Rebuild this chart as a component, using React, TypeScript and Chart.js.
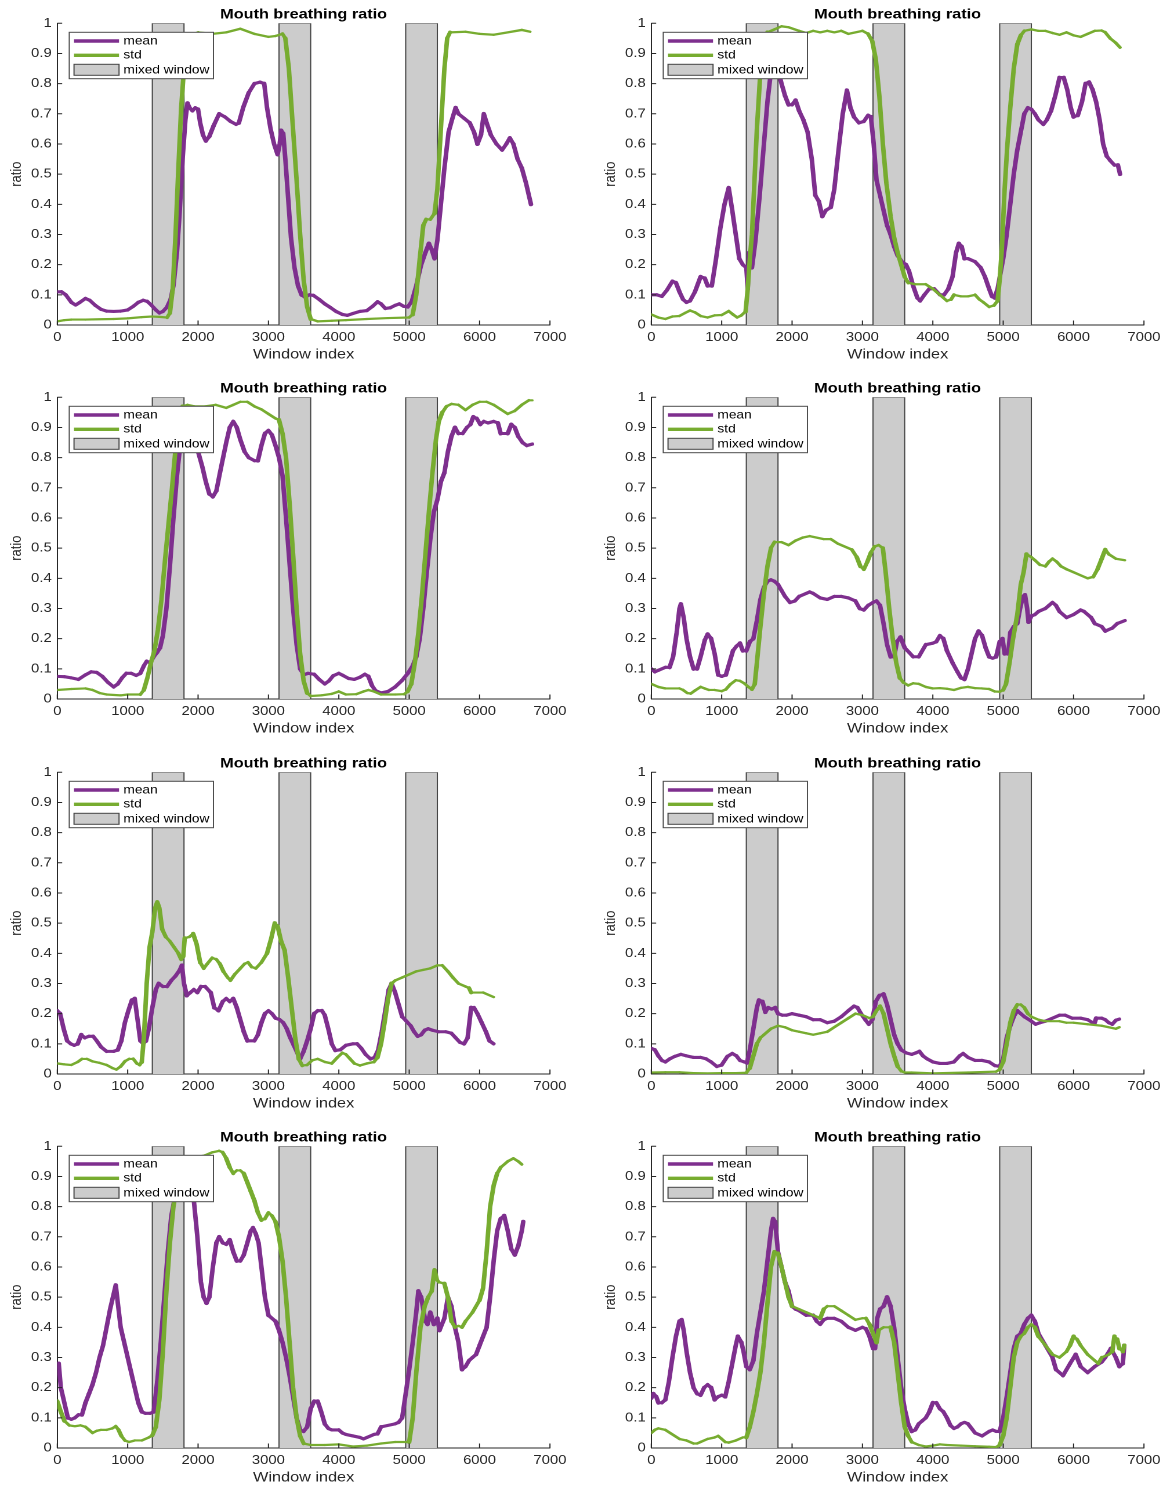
import React, { useEffect, useRef } from 'react';
import { Chart, registerables } from 'chart.js';

Chart.register(...registerables);

const FONT = '"Liberation Sans", Arial, Helvetica, sans-serif';
Chart.defaults.font.family = FONT;

// ---------- text / categories ----------
const titleText = 'Mouth breathing ratio';
const xLabel = 'Window index';
const yLabel = 'ratio';
const legendLabels = ['mean', 'std', 'mixed window'];
const xTicks = [0, 1000, 2000, 3000, 4000, 5000, 6000, 7000];
const yTicks = [0, 0.1, 0.2, 0.3, 0.4, 0.5, 0.6, 0.7, 0.8, 0.9, 1];
const mixedWindows = [[1350, 1800], [3150, 3600], [4950, 5400]];

// ---------- series values [window index, ratio] ----------
const p1Mean = [[0,0.11],[60,0.11],[120,0.1],[200,0.075],[260,0.066],[320,0.075],[400,0.088],[460,0.082],[540,0.065],[620,0.052],[700,0.046],[800,0.045],[900,0.046],[1000,0.05],[1080,0.062],[1150,0.075],[1220,0.082],[1280,0.078],[1340,0.065],[1400,0.05],[1450,0.04],[1500,0.045],[1560,0.06],[1610,0.085],[1650,0.13],[1700,0.24],[1740,0.38],[1780,0.55],[1820,0.68],[1850,0.735],[1880,0.72],[1920,0.71],[1960,0.72],[2000,0.715],[2030,0.67],[2070,0.63],[2110,0.61],[2160,0.625],[2220,0.66],[2300,0.7],[2380,0.69],[2460,0.675],[2540,0.665],[2580,0.67],[2640,0.72],[2720,0.77],[2800,0.8],[2880,0.805],[2940,0.8],[2980,0.72],[3030,0.65],[3080,0.6],[3130,0.565],[3160,0.6],[3180,0.645],[3210,0.635],[3240,0.55],[3280,0.42],[3320,0.29],[3370,0.19],[3420,0.13],[3470,0.1],[3520,0.092],[3580,0.1],[3640,0.098],[3720,0.085],[3800,0.07],[3880,0.058],[3960,0.045],[4050,0.035],[4120,0.032],[4200,0.038],[4300,0.045],[4400,0.048],[4480,0.062],[4550,0.077],[4600,0.07],[4660,0.055],[4730,0.057],[4800,0.065],[4860,0.07],[4920,0.062],[4980,0.06],[5040,0.08],[5100,0.13],[5170,0.2],[5230,0.24],[5280,0.27],[5320,0.25],[5360,0.22],[5400,0.28],[5450,0.4],[5500,0.52],[5560,0.64],[5620,0.69],[5660,0.72],[5700,0.7],[5780,0.685],[5860,0.67],[5920,0.64],[5970,0.6],[6020,0.63],[6060,0.7],[6100,0.67],[6160,0.63],[6240,0.6],[6320,0.58],[6380,0.6],[6430,0.62],[6480,0.6],[6540,0.55],[6600,0.52],[6660,0.47],[6700,0.43],[6730,0.4]];
const p1Std = [[0,0.012],[100,0.016],[200,0.018],[400,0.018],[600,0.019],[800,0.02],[1000,0.022],[1200,0.026],[1350,0.028],[1450,0.027],[1560,0.025],[1600,0.04],[1640,0.12],[1680,0.3],[1720,0.52],[1760,0.72],[1800,0.85],[1850,0.93],[1900,0.96],[2000,0.97],[2200,0.965],[2400,0.97],[2600,0.982],[2800,0.965],[3000,0.955],[3100,0.958],[3200,0.965],[3240,0.95],[3290,0.85],[3340,0.68],[3400,0.48],[3450,0.3],[3500,0.15],[3550,0.06],[3600,0.02],[3700,0.012],[3900,0.014],[4100,0.016],[4400,0.02],[4700,0.023],[5000,0.025],[5050,0.035],[5100,0.1],[5150,0.22],[5200,0.33],[5240,0.35],[5300,0.35],[5360,0.37],[5400,0.45],[5450,0.65],[5500,0.85],[5540,0.95],[5580,0.97],[5800,0.972],[6000,0.965],[6200,0.962],[6400,0.97],[6600,0.978],[6720,0.972]];

const p2Mean = [[0,0.1],[80,0.1],[150,0.095],[220,0.115],[300,0.145],[350,0.14],[400,0.11],[450,0.085],[500,0.075],[550,0.08],[620,0.11],[700,0.16],[760,0.155],[800,0.13],[860,0.13],[920,0.22],[980,0.32],[1040,0.4],[1100,0.455],[1150,0.38],[1200,0.3],[1250,0.22],[1300,0.2],[1350,0.19],[1370,0.12],[1390,0.24],[1430,0.19],[1480,0.28],[1540,0.43],[1600,0.6],[1650,0.74],[1700,0.84],[1750,0.87],[1800,0.85],[1850,0.8],[1900,0.76],[1950,0.73],[2000,0.73],[2050,0.745],[2100,0.71],[2160,0.68],[2220,0.64],[2280,0.55],[2330,0.43],[2380,0.41],[2430,0.36],[2480,0.38],[2550,0.39],[2600,0.45],[2660,0.58],[2720,0.7],[2780,0.778],[2830,0.72],[2880,0.69],[2950,0.67],[3020,0.675],[3080,0.695],[3120,0.69],[3160,0.6],[3200,0.48],[3250,0.43],[3300,0.38],[3350,0.33],[3400,0.3],[3450,0.26],[3500,0.23],[3560,0.21],[3620,0.2],[3660,0.18],[3720,0.13],[3780,0.09],[3820,0.08],[3880,0.1],[3950,0.12],[4020,0.12],[4100,0.1],[4160,0.1],[4220,0.12],[4280,0.16],[4330,0.24],[4370,0.27],[4410,0.26],[4450,0.22],[4500,0.22],[4600,0.21],[4680,0.19],[4740,0.16],[4800,0.12],[4840,0.095],[4880,0.09],[4920,0.12],[4960,0.17],[5000,0.22],[5050,0.3],[5100,0.4],[5150,0.5],[5200,0.58],[5250,0.64],[5300,0.7],[5350,0.72],[5400,0.715],[5450,0.7],[5500,0.68],[5570,0.665],[5620,0.68],[5680,0.71],[5740,0.76],[5800,0.82],[5860,0.82],[5910,0.78],[5960,0.72],[6000,0.69],[6060,0.695],[6120,0.74],[6170,0.8],[6220,0.805],[6270,0.78],[6320,0.74],[6370,0.68],[6420,0.6],[6470,0.56],[6520,0.545],[6580,0.53],[6630,0.53],[6660,0.5]];
const p2Std = [[0,0.035],[100,0.025],[200,0.02],[300,0.028],[400,0.03],[480,0.04],[550,0.048],[620,0.042],[700,0.03],[800,0.025],[900,0.032],[1000,0.033],[1100,0.046],[1160,0.035],[1220,0.025],[1280,0.032],[1340,0.045],[1370,0.12],[1400,0.22],[1430,0.3],[1460,0.45],[1500,0.65],[1550,0.84],[1600,0.93],[1650,0.97],[1750,0.98],[1850,0.99],[1950,0.987],[2100,0.975],[2200,0.968],[2300,0.975],[2400,0.97],[2500,0.975],[2600,0.97],[2700,0.975],[2800,0.965],[2900,0.97],[3000,0.975],[3080,0.965],[3140,0.94],[3190,0.88],[3240,0.76],[3290,0.6],[3340,0.47],[3400,0.36],[3450,0.29],[3500,0.24],[3550,0.2],[3600,0.16],[3650,0.14],[3750,0.135],[3900,0.135],[4000,0.12],[4100,0.1],[4200,0.08],[4260,0.085],[4300,0.1],[4400,0.095],[4500,0.095],[4600,0.1],[4660,0.085],[4720,0.075],[4800,0.06],[4870,0.065],[4920,0.08],[4950,0.15],[4980,0.25],[5020,0.45],[5060,0.6],[5100,0.72],[5150,0.85],[5200,0.93],[5250,0.96],[5300,0.975],[5400,0.98],[5500,0.975],[5600,0.975],[5700,0.968],[5800,0.962],[5900,0.97],[6000,0.96],[6100,0.955],[6200,0.965],[6300,0.975],[6400,0.976],[6450,0.97],[6520,0.95],[6600,0.935],[6660,0.92]];

const p3Mean = [[0,0.075],[100,0.074],[200,0.07],[300,0.065],[400,0.08],[480,0.09],[560,0.088],[640,0.075],[720,0.055],[800,0.04],[860,0.05],[920,0.07],[980,0.085],[1050,0.085],[1120,0.078],[1180,0.085],[1230,0.11],[1270,0.125],[1320,0.12],[1370,0.14],[1420,0.155],[1460,0.17],[1500,0.21],[1550,0.3],[1600,0.44],[1650,0.6],[1700,0.74],[1750,0.85],[1800,0.87],[1850,0.85],[1900,0.84],[1950,0.85],[2000,0.82],[2060,0.77],[2110,0.72],[2160,0.68],[2210,0.67],[2260,0.69],[2320,0.76],[2400,0.85],[2450,0.9],[2500,0.92],[2550,0.9],[2600,0.86],[2660,0.82],[2720,0.8],[2800,0.79],[2850,0.79],[2900,0.84],[2950,0.88],[3000,0.89],[3050,0.875],[3100,0.84],[3150,0.8],[3200,0.74],[3250,0.6],[3300,0.45],[3350,0.3],[3400,0.18],[3450,0.1],[3500,0.08],[3560,0.085],[3650,0.082],[3720,0.065],[3800,0.05],[3860,0.06],[3920,0.077],[4000,0.085],[4060,0.078],[4140,0.068],[4220,0.065],[4300,0.072],[4370,0.082],[4420,0.075],[4470,0.045],[4520,0.028],[4600,0.02],[4700,0.025],[4800,0.04],[4900,0.062],[4980,0.085],[5050,0.11],[5100,0.14],[5150,0.2],[5200,0.3],[5250,0.42],[5300,0.53],[5350,0.62],[5400,0.66],[5450,0.72],[5500,0.75],[5550,0.82],[5600,0.87],[5650,0.9],[5700,0.88],[5760,0.88],[5820,0.9],[5870,0.91],[5910,0.935],[5960,0.93],[6010,0.91],[6060,0.92],[6120,0.915],[6200,0.92],[6260,0.915],[6300,0.88],[6400,0.88],[6450,0.91],[6500,0.9],[6550,0.87],[6610,0.85],[6670,0.84],[6750,0.845]];
const p3Std = [[0,0.03],[200,0.033],[400,0.035],[500,0.03],[600,0.02],[700,0.015],[900,0.012],[1000,0.015],[1180,0.015],[1230,0.03],[1280,0.07],[1330,0.12],[1380,0.16],[1430,0.23],[1480,0.33],[1530,0.46],[1580,0.58],[1630,0.7],[1680,0.83],[1730,0.93],[1780,0.97],[1850,0.975],[1950,0.97],[2100,0.97],[2250,0.975],[2400,0.965],[2500,0.975],[2600,0.985],[2700,0.985],[2800,0.97],[2900,0.96],[3000,0.945],[3100,0.93],[3150,0.925],[3200,0.88],[3250,0.8],[3300,0.65],[3350,0.48],[3400,0.3],[3450,0.15],[3500,0.06],[3550,0.02],[3600,0.01],[3750,0.012],[3900,0.017],[4000,0.025],[4100,0.015],[4250,0.016],[4350,0.025],[4420,0.03],[4500,0.025],[4600,0.015],[4800,0.015],[4930,0.016],[4980,0.025],[5030,0.05],[5080,0.12],[5130,0.22],[5180,0.34],[5230,0.48],[5280,0.62],[5330,0.75],[5380,0.86],[5420,0.92],[5470,0.95],[5530,0.97],[5600,0.978],[5700,0.975],[5800,0.958],[5900,0.975],[6000,0.985],[6100,0.985],[6200,0.975],[6300,0.96],[6400,0.945],[6500,0.955],[6600,0.975],[6700,0.99],[6750,0.99]];

const p4Mean = [[0,0.1],[50,0.09],[100,0.095],[200,0.105],[260,0.105],[310,0.14],[360,0.22],[400,0.3],[420,0.315],[460,0.27],[500,0.2],[550,0.14],[600,0.1],[650,0.1],[700,0.14],[760,0.195],[800,0.215],[850,0.2],[900,0.15],[950,0.08],[1000,0.075],[1060,0.08],[1110,0.12],[1160,0.16],[1210,0.175],[1260,0.185],[1300,0.16],[1350,0.16],[1400,0.19],[1450,0.2],[1500,0.26],[1550,0.33],[1600,0.37],[1650,0.39],[1700,0.395],[1750,0.39],[1800,0.38],[1850,0.36],[1900,0.34],[1970,0.32],[2040,0.325],[2100,0.34],[2200,0.35],[2250,0.355],[2300,0.35],[2400,0.335],[2500,0.33],[2600,0.34],[2700,0.34],[2800,0.335],[2900,0.325],[2960,0.3],[3020,0.295],[3080,0.31],[3150,0.32],[3200,0.325],[3250,0.31],[3300,0.25],[3350,0.18],[3400,0.14],[3450,0.14],[3490,0.19],[3540,0.205],[3600,0.17],[3660,0.155],[3720,0.14],[3800,0.14],[3850,0.16],[3900,0.18],[4000,0.185],[4050,0.19],[4100,0.21],[4150,0.2],[4200,0.16],[4280,0.12],[4350,0.09],[4400,0.07],[4450,0.065],[4500,0.1],[4550,0.15],[4600,0.2],[4650,0.225],[4700,0.21],[4750,0.17],[4800,0.14],[4850,0.135],[4900,0.14],[4950,0.19],[4990,0.2],[5020,0.15],[5070,0.15],[5100,0.22],[5150,0.24],[5200,0.25],[5240,0.3],[5280,0.34],[5310,0.345],[5340,0.3],[5360,0.255],[5400,0.275],[5450,0.28],[5500,0.29],[5600,0.3],[5650,0.31],[5700,0.32],[5750,0.31],[5800,0.29],[5900,0.27],[6000,0.28],[6100,0.295],[6150,0.29],[6250,0.27],[6300,0.25],[6400,0.24],[6450,0.225],[6500,0.23],[6550,0.235],[6620,0.25],[6730,0.26]];
const p4Std = [[0,0.05],[100,0.04],[200,0.035],[300,0.035],[400,0.035],[450,0.03],[510,0.02],[560,0.018],[620,0.028],[700,0.04],[760,0.035],[820,0.03],[900,0.03],[1000,0.026],[1060,0.032],[1120,0.048],[1200,0.062],[1260,0.06],[1320,0.052],[1380,0.04],[1430,0.032],[1470,0.05],[1500,0.12],[1550,0.24],[1600,0.35],[1650,0.44],[1700,0.5],[1750,0.52],[1850,0.52],[1950,0.51],[2050,0.525],[2150,0.535],[2250,0.54],[2350,0.535],[2450,0.53],[2550,0.53],[2650,0.515],[2750,0.505],[2850,0.495],[2920,0.47],[2970,0.44],[3020,0.43],[3070,0.455],[3120,0.485],[3170,0.505],[3230,0.51],[3290,0.5],[3330,0.42],[3380,0.3],[3430,0.2],[3480,0.12],[3530,0.07],[3580,0.055],[3650,0.045],[3720,0.052],[3800,0.05],[3900,0.04],[4000,0.035],[4100,0.036],[4200,0.034],[4300,0.03],[4400,0.037],[4500,0.04],[4600,0.036],[4700,0.035],[4800,0.033],[4880,0.025],[4950,0.024],[5000,0.03],[5040,0.05],[5090,0.12],[5140,0.2],[5200,0.28],[5250,0.38],[5290,0.42],[5330,0.48],[5400,0.47],[5450,0.46],[5520,0.445],[5600,0.44],[5650,0.455],[5700,0.465],[5760,0.455],[5820,0.44],[5900,0.43],[6000,0.42],[6100,0.41],[6200,0.4],[6280,0.405],[6340,0.43],[6400,0.465],[6450,0.495],[6500,0.48],[6600,0.465],[6730,0.46]];

const p5Mean = [[0,0.21],[40,0.2],[90,0.15],[140,0.11],[190,0.1],[240,0.095],[290,0.1],[340,0.13],[390,0.12],[450,0.125],[510,0.125],[560,0.11],[620,0.09],[700,0.075],[800,0.075],[860,0.08],[910,0.11],[960,0.17],[1010,0.21],[1060,0.245],[1100,0.25],[1140,0.18],[1180,0.11],[1220,0.1],[1260,0.11],[1300,0.15],[1350,0.22],[1400,0.28],[1440,0.3],[1500,0.29],[1560,0.29],[1620,0.31],[1680,0.325],[1740,0.345],[1770,0.36],[1800,0.3],[1840,0.26],[1890,0.27],[1940,0.28],[1990,0.27],[2040,0.29],[2100,0.29],[2180,0.27],[2230,0.22],[2290,0.21],[2350,0.24],[2400,0.25],[2450,0.24],[2500,0.25],[2550,0.22],[2600,0.18],[2650,0.14],[2700,0.11],[2800,0.11],[2850,0.13],[2900,0.17],[2950,0.2],[3000,0.21],[3050,0.2],[3100,0.185],[3160,0.18],[3210,0.17],[3260,0.15],[3310,0.12],[3360,0.095],[3410,0.07],[3450,0.05],[3500,0.075],[3550,0.11],[3600,0.15],[3650,0.2],[3700,0.21],[3760,0.21],[3800,0.195],[3850,0.15],[3900,0.1],[3950,0.078],[4020,0.08],[4100,0.095],[4200,0.1],[4260,0.1],[4320,0.085],[4380,0.065],[4450,0.05],[4510,0.055],[4560,0.08],[4610,0.14],[4660,0.21],[4710,0.28],[4750,0.3],[4800,0.27],[4850,0.23],[4900,0.19],[4960,0.175],[5020,0.16],[5070,0.14],[5120,0.125],[5170,0.13],[5220,0.145],[5270,0.15],[5330,0.145],[5420,0.14],[5520,0.14],[5600,0.135],[5660,0.12],[5720,0.105],[5780,0.1],[5830,0.12],[5880,0.22],[5920,0.22],[5970,0.2],[6030,0.17],[6090,0.14],[6140,0.11],[6200,0.1]];
const p5Std = [[0,0.035],[100,0.032],[200,0.03],[290,0.04],[350,0.05],[420,0.05],[500,0.042],[600,0.037],[700,0.03],[780,0.02],[840,0.015],[900,0.025],[960,0.042],[1020,0.05],[1080,0.05],[1130,0.035],[1170,0.03],[1200,0.04],[1230,0.12],[1270,0.3],[1310,0.42],[1350,0.47],[1390,0.55],[1420,0.57],[1450,0.55],[1490,0.48],[1540,0.455],[1600,0.44],[1660,0.42],[1720,0.4],[1760,0.38],[1790,0.39],[1810,0.45],[1880,0.455],[1930,0.465],[1980,0.43],[2030,0.37],[2080,0.35],[2130,0.365],[2200,0.385],[2260,0.38],[2310,0.365],[2360,0.34],[2420,0.32],[2460,0.31],[2520,0.33],[2600,0.35],[2660,0.365],[2710,0.37],[2760,0.355],[2820,0.35],[2900,0.37],[2980,0.4],[3040,0.45],[3090,0.5],[3130,0.49],[3180,0.44],[3230,0.41],[3280,0.32],[3330,0.22],[3380,0.12],[3430,0.05],[3480,0.028],[3550,0.03],[3620,0.045],[3700,0.05],[3800,0.04],[3900,0.035],[3980,0.055],[4050,0.07],[4100,0.065],[4160,0.05],[4220,0.035],[4300,0.028],[4400,0.035],[4500,0.04],[4550,0.055],[4600,0.1],[4650,0.17],[4700,0.25],[4750,0.3],[4800,0.31],[4900,0.32],[5000,0.33],[5100,0.34],[5200,0.345],[5300,0.35],[5400,0.36],[5470,0.36],[5550,0.34],[5620,0.32],[5700,0.3],[5800,0.29],[5850,0.285],[5880,0.27],[5950,0.27],[6050,0.27],[6100,0.265],[6200,0.255]];

const p6Mean = [[0,0.085],[50,0.08],[100,0.06],[150,0.045],[200,0.04],[260,0.05],[330,0.058],[420,0.065],[500,0.06],[600,0.055],[700,0.055],[780,0.05],[850,0.04],[930,0.025],[1000,0.03],[1080,0.058],[1150,0.068],[1210,0.06],[1260,0.045],[1320,0.04],[1360,0.037],[1400,0.08],[1450,0.15],[1500,0.22],[1530,0.245],[1580,0.24],[1620,0.205],[1660,0.22],[1710,0.215],[1760,0.22],[1800,0.2],[1860,0.195],[1920,0.195],[2000,0.2],[2100,0.195],[2200,0.19],[2300,0.18],[2400,0.18],[2500,0.17],[2600,0.175],[2700,0.19],[2800,0.21],[2880,0.225],[2930,0.22],[2980,0.2],[3040,0.18],[3090,0.165],[3140,0.18],[3190,0.24],[3240,0.26],[3300,0.265],[3350,0.23],[3400,0.18],[3450,0.13],[3500,0.1],[3550,0.08],[3620,0.07],[3700,0.065],[3760,0.07],[3810,0.075],[3860,0.06],[3920,0.05],[4000,0.04],[4100,0.035],[4200,0.035],[4300,0.04],[4380,0.06],[4430,0.068],[4500,0.055],[4600,0.045],[4700,0.045],[4800,0.04],[4880,0.028],[4950,0.025],[5000,0.05],[5050,0.12],[5100,0.16],[5150,0.19],[5200,0.21],[5250,0.2],[5300,0.19],[5400,0.175],[5460,0.165],[5520,0.17],[5600,0.175],[5700,0.185],[5800,0.195],[5880,0.195],[5980,0.185],[6100,0.185],[6200,0.18],[6270,0.17],[6300,0.17],[6320,0.185],[6400,0.185],[6450,0.18],[6500,0.17],[6550,0.165],[6600,0.178],[6650,0.182]];
const p6Std = [[0,0.005],[200,0.006],[400,0.006],[600,0.003],[800,0.002],[1000,0.003],[1200,0.003],[1350,0.004],[1400,0.02],[1450,0.06],[1500,0.1],[1550,0.12],[1600,0.13],[1700,0.15],[1800,0.16],[1900,0.155],[2000,0.145],[2100,0.14],[2200,0.135],[2300,0.13],[2400,0.135],[2500,0.14],[2600,0.155],[2700,0.17],[2800,0.185],[2900,0.2],[3000,0.195],[3100,0.185],[3150,0.19],[3200,0.21],[3250,0.225],[3300,0.2],[3350,0.15],[3400,0.1],[3450,0.06],[3500,0.025],[3550,0.01],[3600,0.005],[3700,0.005],[4000,0.002],[4500,0.005],[4900,0.008],[4950,0.015],[5000,0.04],[5050,0.1],[5100,0.17],[5150,0.21],[5200,0.23],[5250,0.23],[5300,0.22],[5350,0.2],[5400,0.19],[5500,0.18],[5600,0.175],[5700,0.175],[5800,0.175],[5900,0.17],[6000,0.17],[6200,0.165],[6400,0.16],[6500,0.155],[6600,0.15],[6650,0.155]];

const p7Mean = [[0,0.27],[20,0.28],[50,0.2],[100,0.15],[150,0.1],[200,0.095],[250,0.1],[300,0.11],[350,0.11],[400,0.15],[450,0.18],[500,0.21],[550,0.25],[600,0.3],[650,0.34],[700,0.4],[750,0.46],[800,0.51],[830,0.54],[860,0.48],[900,0.4],[950,0.35],[1000,0.3],[1050,0.25],[1100,0.2],[1150,0.15],[1200,0.12],[1250,0.115],[1320,0.115],[1370,0.12],[1420,0.22],[1470,0.35],[1520,0.5],[1570,0.65],[1620,0.77],[1670,0.83],[1720,0.85],[1800,0.87],[1870,0.87],[1940,0.82],[1990,0.7],[2040,0.55],[2080,0.5],[2120,0.48],[2160,0.5],[2210,0.6],[2260,0.68],[2300,0.7],[2350,0.68],[2400,0.675],[2450,0.69],[2500,0.65],[2550,0.62],[2600,0.62],[2650,0.64],[2700,0.68],[2750,0.72],[2780,0.73],[2820,0.71],[2860,0.68],[2900,0.6],[2950,0.5],[3000,0.44],[3050,0.43],[3100,0.42],[3150,0.39],[3200,0.35],[3250,0.3],[3300,0.24],[3350,0.17],[3400,0.1],[3450,0.06],[3500,0.055],[3550,0.07],[3600,0.13],[3650,0.155],[3700,0.155],[3750,0.12],[3800,0.08],[3850,0.065],[3900,0.06],[4000,0.06],[4050,0.05],[4100,0.045],[4200,0.04],[4300,0.035],[4350,0.03],[4400,0.035],[4500,0.045],[4550,0.047],[4600,0.07],[4700,0.075],[4800,0.08],[4850,0.085],[4900,0.1],[4950,0.18],[5000,0.26],[5050,0.35],[5100,0.45],[5130,0.52],[5170,0.5],[5230,0.42],[5260,0.41],[5300,0.45],[5350,0.41],[5400,0.43],[5430,0.39],[5500,0.43],[5550,0.5],[5600,0.47],[5650,0.4],[5700,0.35],[5750,0.26],[5800,0.27],[5850,0.29],[5900,0.3],[5950,0.31],[6000,0.34],[6050,0.37],[6100,0.4],[6150,0.5],[6200,0.62],[6250,0.72],[6300,0.76],[6350,0.77],[6400,0.72],[6450,0.66],[6500,0.64],[6550,0.67],[6600,0.72],[6620,0.75]];
const p7Std = [[0,0.155],[50,0.12],[100,0.09],[170,0.075],[250,0.072],[330,0.075],[400,0.07],[450,0.06],[500,0.05],[560,0.057],[620,0.06],[700,0.06],[780,0.065],[830,0.072],[870,0.06],[910,0.04],[960,0.025],[1020,0.02],[1100,0.025],[1200,0.025],[1300,0.035],[1350,0.042],[1400,0.07],[1450,0.16],[1500,0.32],[1550,0.52],[1600,0.68],[1650,0.8],[1700,0.88],[1750,0.92],[1800,0.95],[1900,0.96],[2000,0.965],[2100,0.97],[2200,0.98],[2300,0.985],[2350,0.98],[2400,0.96],[2450,0.93],[2500,0.91],[2550,0.92],[2600,0.92],[2650,0.91],[2700,0.88],[2750,0.85],[2800,0.82],[2850,0.78],[2900,0.755],[2950,0.76],[3000,0.78],[3050,0.77],[3100,0.75],[3150,0.7],[3200,0.62],[3250,0.5],[3300,0.35],[3350,0.2],[3400,0.1],[3450,0.04],[3500,0.015],[3600,0.01],[3800,0.01],[4000,0.012],[4200,0.005],[4400,0.008],[4600,0.015],[4800,0.02],[5000,0.02],[5050,0.1],[5100,0.25],[5160,0.4],[5220,0.47],[5270,0.5],[5320,0.52],[5360,0.59],[5390,0.56],[5420,0.55],[5500,0.545],[5550,0.5],[5600,0.42],[5650,0.4],[5700,0.405],[5750,0.4],[5800,0.42],[5900,0.45],[6000,0.49],[6050,0.53],[6100,0.65],[6150,0.8],[6200,0.87],[6250,0.91],[6300,0.93],[6400,0.95],[6480,0.96],[6550,0.95],[6600,0.94]];

const p8Mean = [[0,0.165],[30,0.18],[70,0.17],[100,0.15],[150,0.15],[200,0.16],[250,0.22],[300,0.3],[350,0.37],[400,0.42],[430,0.425],[460,0.39],[500,0.32],[550,0.25],[600,0.2],[650,0.18],[700,0.175],[750,0.2],[800,0.21],[850,0.2],[900,0.16],[950,0.17],[1000,0.175],[1050,0.17],[1100,0.22],[1150,0.28],[1200,0.34],[1230,0.37],[1280,0.35],[1310,0.32],[1350,0.27],[1400,0.26],[1450,0.29],[1500,0.38],[1550,0.45],[1600,0.52],[1650,0.62],[1700,0.72],[1730,0.76],[1760,0.75],[1800,0.65],[1850,0.6],[1900,0.55],[1950,0.52],[2000,0.47],[2050,0.46],[2100,0.455],[2200,0.44],[2300,0.44],[2350,0.42],[2400,0.41],[2450,0.425],[2500,0.43],[2600,0.43],[2700,0.42],[2800,0.4],[2900,0.39],[3000,0.4],[3050,0.395],[3100,0.37],[3150,0.33],[3180,0.33],[3210,0.43],[3250,0.46],[3300,0.47],[3350,0.5],[3400,0.47],[3450,0.4],[3500,0.3],[3550,0.2],[3600,0.13],[3650,0.08],[3700,0.055],[3750,0.06],[3800,0.08],[3850,0.09],[3900,0.1],[3950,0.12],[4000,0.15],[4050,0.15],[4100,0.13],[4150,0.12],[4200,0.1],[4250,0.075],[4300,0.065],[4350,0.07],[4400,0.08],[4450,0.085],[4500,0.08],[4550,0.065],[4600,0.05],[4700,0.04],[4800,0.055],[4850,0.06],[4900,0.055],[4950,0.055],[5000,0.1],[5050,0.17],[5100,0.25],[5150,0.33],[5200,0.37],[5250,0.38],[5300,0.41],[5350,0.43],[5400,0.44],[5450,0.42],[5500,0.38],[5600,0.34],[5700,0.3],[5750,0.26],[5850,0.24],[5950,0.28],[6030,0.31],[6100,0.27],[6200,0.25],[6300,0.27],[6400,0.285],[6450,0.3],[6530,0.33],[6600,0.3],[6650,0.27],[6700,0.28],[6720,0.34]];
const p8Std = [[0,0.05],[50,0.06],[100,0.065],[200,0.06],[300,0.045],[400,0.03],[500,0.025],[600,0.015],[650,0.015],[700,0.02],[800,0.03],[900,0.035],[950,0.04],[1000,0.03],[1050,0.02],[1100,0.018],[1200,0.025],[1300,0.035],[1350,0.035],[1400,0.07],[1450,0.12],[1500,0.18],[1550,0.25],[1600,0.35],[1650,0.48],[1700,0.6],[1750,0.65],[1800,0.645],[1850,0.6],[1900,0.55],[1950,0.5],[2000,0.47],[2100,0.46],[2200,0.45],[2300,0.44],[2400,0.43],[2450,0.46],[2500,0.47],[2600,0.47],[2700,0.455],[2800,0.44],[2900,0.425],[3000,0.43],[3050,0.43],[3100,0.41],[3150,0.38],[3200,0.35],[3230,0.39],[3300,0.4],[3400,0.4],[3450,0.35],[3500,0.25],[3550,0.15],[3600,0.07],[3650,0.04],[3700,0.02],[3800,0.01],[3900,0.005],[4000,0.008],[4100,0.012],[4200,0.01],[4400,0.008],[4600,0.006],[4800,0.004],[4900,0.003],[4950,0.01],[5000,0.04],[5050,0.1],[5100,0.2],[5150,0.3],[5200,0.35],[5250,0.37],[5300,0.38],[5350,0.4],[5400,0.41],[5450,0.4],[5500,0.37],[5600,0.34],[5700,0.31],[5800,0.3],[5850,0.31],[5900,0.32],[5950,0.34],[6000,0.37],[6050,0.36],[6100,0.34],[6200,0.31],[6300,0.29],[6350,0.28],[6400,0.3],[6500,0.31],[6550,0.32],[6580,0.37],[6620,0.36],[6650,0.33],[6700,0.32],[6720,0.34]];

const panelMeans = [p1Mean, p2Mean, p3Mean, p4Mean, p5Mean, p6Mean, p7Mean, p8Mean];
const panelStds = [p1Std, p2Std, p3Std, p4Std, p5Std, p6Std, p7Std, p8Std];

// ---------- styling / layout ----------
const MEAN_COLOR = '#7E2F8E';
const STD_COLOR = '#77AC30';
const PATCH_FILL = '#cccccc';
const PATCH_EDGE = '#454545';
const AXIS_COLOR = '#262626';
const STRETCH = 1.16;
const CW = 503;
const CH = 374;
const ROW_STEP = 374.47;
const COL_LEFT = [0, 594.3];

const segWidth = (base: number, extra: number) => (ctx: any) => {
  const dx = Math.abs(ctx.p1.x - ctx.p0.x);
  const dy = Math.abs(ctx.p1.y - ctx.p0.y);
  const s = dy / Math.max(dx, 0.001);
  return base + extra * Math.min(1, s / 3);
};

const decorPlugin = {
  id: 'matlabDecor',
  afterDraw(chart: any) {
    const { ctx, chartArea: ca, scales } = chart;
    const xs = scales.x;
    const ys = scales.y;
    ctx.save();
    // inward ticks
    ctx.strokeStyle = AXIS_COLOR;
    ctx.lineWidth = 1;
    ctx.beginPath();
    xTicks.forEach((t) => {
      const px = xs.getPixelForValue(t);
      ctx.moveTo(px, ca.bottom);
      ctx.lineTo(px, ca.bottom - 4.5);
    });
    yTicks.forEach((t) => {
      const py = ys.getPixelForValue(t);
      ctx.moveTo(ca.left, py);
      ctx.lineTo(ca.left + 4.2, py);
    });
    ctx.stroke();
    // title
    ctx.fillStyle = '#000';
    ctx.font = `bold 14px ${FONT}`;
    ctx.textAlign = 'center';
    ctx.textBaseline = 'alphabetic';
    ctx.fillText(titleText, (ca.left + ca.right) / 2, ca.top - 5);
    // legend
    const bx = ca.left + 10.3;
    const by = ca.top + 9;
    const bw = 124.3;
    const bh = 46.4;
    ctx.fillStyle = '#ffffff';
    ctx.fillRect(bx, by, bw, bh);
    ctx.strokeStyle = '#4d4d4d';
    ctx.lineWidth = 1;
    ctx.strokeRect(bx, by, bw, bh);
    const sx0 = ca.left + 14.4;
    const sx1 = ca.left + 53.2;
    const rows = [ca.top + 17.7, ca.top + 32, ca.top + 46.7];
    ctx.lineCap = 'butt';
    ctx.lineWidth = 3.4;
    ctx.strokeStyle = MEAN_COLOR;
    ctx.beginPath();
    ctx.moveTo(sx0, rows[0]);
    ctx.lineTo(sx1, rows[0]);
    ctx.stroke();
    ctx.strokeStyle = STD_COLOR;
    ctx.beginPath();
    ctx.moveTo(sx0, rows[1]);
    ctx.lineTo(sx1, rows[1]);
    ctx.stroke();
    ctx.fillStyle = PATCH_FILL;
    ctx.fillRect(sx0, ca.top + 41, sx1 - sx0, 11);
    ctx.strokeStyle = PATCH_EDGE;
    ctx.lineWidth = 1;
    ctx.strokeRect(sx0, ca.top + 41, sx1 - sx0, 11);
    ctx.fillStyle = '#000';
    ctx.font = `11.8px ${FONT}`;
    ctx.textAlign = 'left';
    ctx.textBaseline = 'middle';
    legendLabels.forEach((lab, i) => ctx.fillText(lab, ca.left + 57, rows[i]));
    ctx.restore();
  },
};

function buildConfig(idx: number): any {
  const windowSets = mixedWindows.map(([a, b]) => ({
    label: legendLabels[2],
    data: [{ x: a, y: 0 }, { x: a, y: 1 }, { x: b, y: 1 }, { x: b, y: 0 }],
    borderColor: PATCH_EDGE,
    borderWidth: 1,
    backgroundColor: PATCH_FILL,
    fill: 'origin',
    pointRadius: 0,
    tension: 0,
    order: 10,
  }));
  const lineSet = (pts: number[][], label: string, color: string, base: number, extra: number, order: number) => ({
    label,
    data: pts.map(([x, y]) => ({ x, y })),
    borderColor: color,
    borderWidth: base,
    pointRadius: 0,
    tension: 0,
    fill: false,
    borderCapStyle: 'round',
    borderJoinStyle: 'round',
    segment: { borderWidth: segWidth(base, extra) },
    order,
  });
  return {
    type: 'line',
    data: {
      datasets: [
        ...windowSets,
        lineSet(panelMeans[idx], legendLabels[0], MEAN_COLOR, 3.1, 0.8, 1),
        lineSet(panelStds[idx], legendLabels[1], STD_COLOR, 2.2, 1.7, 0),
      ],
    },
    options: {
      responsive: false,
      animation: false,
      devicePixelRatio: 2,
      layout: { padding: { top: 23.3, left: 0, right: 28.9, bottom: 0 } },
      plugins: { legend: { display: false }, tooltip: { enabled: false }, title: { display: false } },
      events: [],
      scales: {
        x: {
          type: 'linear',
          min: 0,
          max: 7000,
          afterBuildTicks: (s: any) => { s.ticks = xTicks.map((v) => ({ value: v })); },
          afterFit: (s: any) => { s.height = 49; },
          ticks: {
            autoSkip: false,
            maxRotation: 0,
            padding: 5,
            color: AXIS_COLOR,
            font: { size: 12.8, family: FONT },
            callback: (v: any) => String(v),
          },
          grid: { display: false, drawTicks: false },
          border: { display: true, color: AXIS_COLOR, width: 1 },
          title: {
            display: true,
            text: xLabel,
            color: AXIS_COLOR,
            font: { size: 14, family: FONT },
            padding: { top: 0, bottom: 10.9 },
          },
        },
        y: {
          type: 'linear',
          min: 0,
          max: 1,
          afterBuildTicks: (s: any) => { s.ticks = yTicks.map((v) => ({ value: v })); },
          afterFit: (s: any) => { s.width = 49.4; },
          ticks: {
            autoSkip: false,
            padding: 4.8,
            color: AXIS_COLOR,
            font: { size: 12.8, family: FONT },
            callback: (v: any) => String(Math.round(v * 10) / 10),
          },
          grid: { display: false, drawTicks: false },
          border: { display: true, color: AXIS_COLOR, width: 1 },
          title: {
            display: true,
            text: yLabel,
            color: AXIS_COLOR,
            font: { size: 13, family: FONT },
            padding: { top: 6.6, bottom: 0 },
          },
        },
      },
    },
    plugins: [decorPlugin],
  };
}

function Panel({ idx }: { idx: number }) {
  const ref = useRef<HTMLCanvasElement | null>(null);
  useEffect(() => {
    if (!ref.current) return;
    const chart = new Chart(ref.current, buildConfig(idx));
    return () => chart.destroy();
  }, [idx]);
  const row = Math.floor(idx / 2);
  const col = idx % 2;
  return (
    <div
      style={{
        position: 'absolute',
        left: COL_LEFT[col],
        top: row * ROW_STEP,
        width: CW,
        height: CH,
        transform: `scaleX(${STRETCH})`,
        transformOrigin: '0 0',
      }}
    >
      <canvas ref={ref} width={CW} height={CH} style={{ display: 'block', width: CW, height: CH }} />
    </div>
  );
}

export default function App() {
  return (
    <div
      style={{
        position: 'absolute',
        left: 0,
        top: 0,
        width: 1167,
        height: 1487,
        background: '#ffffff',
        overflow: 'hidden',
      }}
    >
      {panelMeans.map((_, i) => (
        <Panel key={i} idx={i} />
      ))}
    </div>
  );
}
